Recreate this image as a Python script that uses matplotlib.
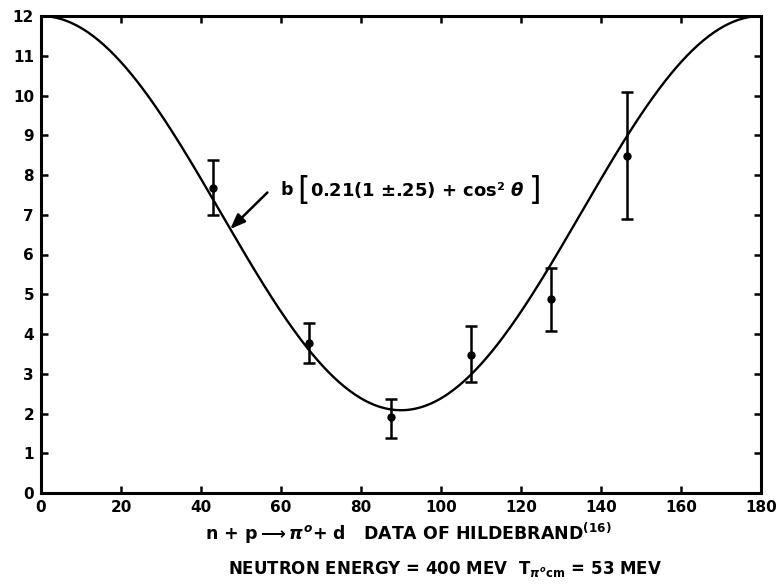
import numpy as np
import matplotlib.pyplot as plt

# measured points (angle in degrees, value, error-bar low/high)
angles = [43, 67, 87.5, 107.5, 127.5, 146.5]
values = [7.67, 3.78, 1.9, 3.47, 4.87, 8.48]
err_low = [7.0, 3.28, 1.38, 2.78, 4.08, 6.89]
err_high = [8.38, 4.27, 2.36, 4.2, 5.65, 10.1]

# curve b[0.21 + cos^2 theta], normalised to 12 at 0 deg
b_coef = 9.917
a_coef = 0.21

x_ticks = list(range(0, 181, 20))
y_ticks = list(range(0, 13))

plt.rcParams['font.family'] = ['DejaVu Sans']
plt.rcParams['font.weight'] = 'bold'
plt.rcParams['mathtext.fontset'] = 'custom'
plt.rcParams['mathtext.rm'] = 'DejaVu Sans:bold'
plt.rcParams['mathtext.bf'] = 'DejaVu Sans:bold'
plt.rcParams['mathtext.it'] = 'DejaVu Sans:bold:italic'

fig = plt.figure(figsize=(7.79, 5.86), dpi=100)
ax = fig.add_axes([41 / 779, 93 / 586, 720 / 779, 477 / 586])

theta = np.linspace(0, 180, 400)
curve = b_coef * (a_coef + np.cos(np.radians(theta)) ** 2)
ax.plot(theta, curve, color="black", linewidth=1.7)

vals = np.array(values)
yerr = [vals - np.array(err_low), np.array(err_high) - vals]
ax.errorbar(angles, values, yerr=yerr, fmt="o", color="black", markersize=5,
            elinewidth=1.8, capsize=4, capthick=1.8)

ax.annotate("", xy=(47.3, 6.64), xytext=(56.6, 7.56),
            arrowprops=dict(arrowstyle="-|>,head_length=0.9,head_width=0.35",
                            color="black", linewidth=1.8, shrinkA=0, shrinkB=0))

# formula label: b [ ... ] with tall brackets
ax.text(59.8, 7.62, "b", fontsize=12.5, fontweight="bold", va="center", ha="left")
ax.text(64.0, 7.62, "[", fontsize=23, fontweight="normal", va="center", ha="left")
ax.text(67.3, 7.62, r"0.21(1 ±.25) + cos² $\theta$", fontsize=13,
        fontweight="bold", va="center", ha="left")
ax.text(125.2, 7.62, "]", fontsize=23, fontweight="normal", va="center", ha="right")

ax.set_xlim(0, 180)
ax.set_ylim(0, 12)
ax.set_xticks(x_ticks)
ax.set_yticks(y_ticks)
ax.set_xticklabels([str(t) for t in x_ticks], fontsize=11, fontweight="bold")
ax.set_yticklabels([str(t) for t in y_ticks], fontsize=11, fontweight="bold")
ax.tick_params(direction="in", length=5, width=1.8, top=True, right=True, pad=5)
for s in ax.spines.values():
    s.set_linewidth(2.2)

fig.text(0.524, 0.090, r"n + p$\longrightarrow$$\pi^{o}$+ d   DATA OF HILDEBRAND$^{(16)}$",
         ha="center", va="center", fontsize=12.5, fontweight="bold")
fig.text(0.571, 0.029, r"NEUTRON ENERGY = 400 MEV  T$_{\pi^{o}\mathrm{cm}}$ = 53 MEV",
         ha="center", va="center", fontsize=12, fontweight="bold")

fig.savefig("out.png", dpi=100)
